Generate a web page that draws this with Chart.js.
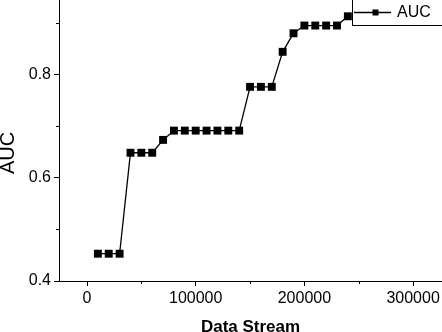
<!DOCTYPE html>
<html>
<head>
<meta charset="utf-8">
<script src="https://cdn.jsdelivr.net/npm/chart.js@4/dist/chart.umd.min.js"></script>
<style>
  html, body { margin: 0; padding: 0; background: #fff; }
  #wrap { width: 442px; height: 332px; }
</style>
</head>
<body>
<div id="wrap"><canvas id="c" width="442" height="332"></canvas></div>
<script>
// ---- data ----
const dataStream = [10000, 20000, 30000, 40000, 50000, 60000, 70000, 80000, 90000, 100000,
  110000, 120000, 130000, 140000, 150000, 160000, 170000, 180000, 190000, 200000,
  210000, 220000, 230000, 240000];
const aucValues = [0.453, 0.453, 0.453, 0.649, 0.649, 0.649, 0.674, 0.692, 0.692, 0.692,
  0.692, 0.692, 0.692, 0.692, 0.777, 0.777, 0.777, 0.845, 0.881, 0.896,
  0.896, 0.896, 0.896, 0.914];
const seriesLabel = 'AUC';
const xTickValues = [0, 100000, 200000, 300000];
const xMinorTicks = [50000, 150000, 250000];
const yTickValues = [0.4, 0.6, 0.8];
const yMinorTicks = [0.5, 0.7, 0.9];
const xTitle = 'Data Stream';
const yTitle = 'AUC';

const FONT = "'Liberation Sans', Arial, sans-serif";

const extrasPlugin = {
  id: 'extras',
  afterDraw(chart) {
    const ctx = chart.ctx;
    const xs = chart.scales.x, ys = chart.scales.y;
    ctx.save();
    ctx.strokeStyle = '#000';
    ctx.lineWidth = 1;
    // minor ticks
    ctx.beginPath();
    xMinorTicks.forEach(v => {
      const px = Math.round(xs.getPixelForValue(v)) + 0.5;
      ctx.moveTo(px, chart.chartArea.bottom);
      ctx.lineTo(px, chart.chartArea.bottom + 3);
    });
    yMinorTicks.forEach(v => {
      const py = Math.round(ys.getPixelForValue(v)) + 0.5;
      ctx.moveTo(chart.chartArea.left, py);
      ctx.lineTo(chart.chartArea.left - 3, py);
    });
    ctx.stroke();

    // y axis title
    ctx.save();
    ctx.translate(8, 153);
    ctx.rotate(-Math.PI / 2);
    ctx.font = '20px ' + FONT;
    ctx.fillStyle = '#000';
    ctx.textAlign = 'center';
    ctx.textBaseline = 'middle';
    ctx.fillText(yTitle, 0, 0);
    ctx.restore();

    // legend box
    const ds = chart.data.datasets[0];
    ctx.fillStyle = '#fff';
    ctx.fillRect(352.5, -1, 100, 26.5);
    ctx.strokeStyle = '#000';
    ctx.lineWidth = 1;
    ctx.strokeRect(352.5, -1, 100, 26.5);
    ctx.lineWidth = 1.5;
    ctx.beginPath();
    ctx.moveTo(354, 12.5);
    ctx.lineTo(391, 12.5);
    ctx.stroke();
    ctx.fillStyle = '#000';
    ctx.fillRect(372.5, 9.5, 6, 6);
    ctx.font = '16px ' + FONT;
    ctx.textAlign = 'left';
    ctx.textBaseline = 'middle';
    ctx.fillText(ds.label, 397, 13);
    ctx.restore();
  }
};

const points = dataStream.map((x, i) => ({ x: x, y: aucValues[i] }));

new Chart(document.getElementById('c'), {
  type: 'line',
  data: {
    datasets: [{
      label: seriesLabel,
      data: points,
      borderColor: '#000',
      backgroundColor: '#000',
      borderWidth: 1.3,
      pointStyle: 'rect',
      pointRadius: 5.6,
      pointBorderWidth: 0,
      pointBackgroundColor: '#000',
      tension: 0,
      fill: false,
      clip: false
    }]
  },
  options: {
    responsive: false,
    animation: false,
    layout: { autoPadding: false, padding: { left: 0, right: 0, top: 0, bottom: 0 } },
    plugins: { legend: { display: false }, tooltip: { enabled: false } },
    scales: {
      x: {
        type: 'linear',
        min: -25760,
        max: 326600,
        afterBuildTicks: s => { s.ticks = xTickValues.map(v => ({ value: v })); },
        afterFit: s => { s.height = 51; s.paddingLeft = 0; s.paddingRight = 0; },
        grid: { drawOnChartArea: false, tickLength: 5, tickColor: '#000', tickWidth: 1 },
        border: { color: '#000', width: 1 },
        ticks: {
          color: '#000', padding: 3, maxRotation: 0, autoSkip: false,
          font: { family: FONT, size: 16 },
          callback: v => String(v)
        },
        title: {
          display: true, text: xTitle, color: '#000',
          font: { family: FONT, size: 17, weight: 'bold', lineHeight: 0.6 },
          padding: 0
        }
      },
      y: {
        type: 'linear',
        min: 0.4,
        max: 0.9456,
        afterBuildTicks: s => { s.ticks = yTickValues.map(v => ({ value: v })); },
        afterFit: s => { s.width = 59; s.paddingTop = 0; s.paddingBottom = 0; },
        grid: { drawOnChartArea: false, tickLength: 5, tickColor: '#000', tickWidth: 1 },
        border: { color: '#000', width: 1 },
        ticks: {
          color: '#000', padding: 3,
          font: { family: FONT, size: 16 },
          callback: v => v.toFixed(1)
        },
        title: { display: false }
      }
    }
  },
  plugins: [extrasPlugin]
});
</script>
</body>
</html>
